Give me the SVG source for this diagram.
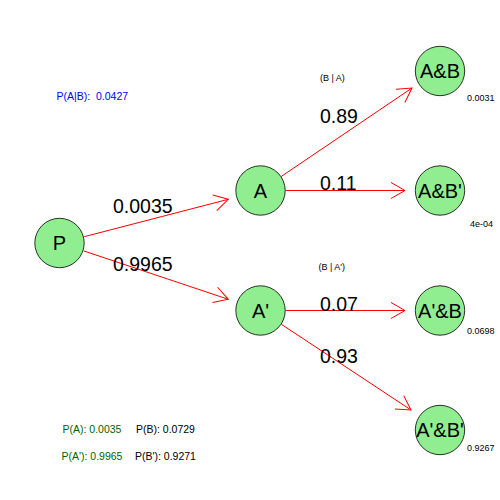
<svg xmlns="http://www.w3.org/2000/svg" width="500" height="500" viewBox="0 0 500 500">
  <defs>
    <marker id="head" markerUnits="userSpaceOnUse" markerWidth="32" markerHeight="32" viewBox="-16 -16 32 32" refX="0" refY="0" orient="auto" overflow="visible">
      <path d="M-14,-8 L0,0 L-14,8" fill="none" stroke="#FF0000" stroke-width="1"/>
    </marker>
    <style>
      text { white-space: pre; }
      .node circle { fill: #90EE90; stroke: #000000; stroke-width: 0.8; }
      .node text { font-family: "Liberation Sans", Arial, sans-serif; font-size: 20px; text-anchor: middle; fill: #000000; }
      .edge { stroke: #FF0000; stroke-width: 1; fill: none; marker-end: url(#head); }
      .big { font-family: "Liberation Sans", Arial, sans-serif; font-size: 19.5px; fill: #000000; }
      .small { font-family: "Liberation Sans", Arial, sans-serif; font-size: 9px; fill: #000000; }
      .info { font-family: "Liberation Sans", Arial, sans-serif; font-size: 10.5px; }
    </style>
  </defs>
  <rect width="500" height="500" fill="#FFFFFF"/>

  <!-- branches -->
  <g id="connectors">
    <line class="edge" x1="84.2" y1="236.7" x2="228.3" y2="199.3"/>
    <line class="edge" x1="83.7" y1="250.9" x2="228.3" y2="299.3"/>
    <line class="edge" x1="281.2" y1="176.5" x2="412" y2="88"/>
    <line class="edge" x1="285.5" y1="190.5" x2="405" y2="190.5"/>
    <line class="edge" x1="285.5" y1="310.5" x2="405" y2="310.5"/>
    <line class="edge" x1="281.4" y1="324.3" x2="411" y2="410"/>
  </g>

  <!-- branch probabilities -->
  <g id="edge-labels">
    <text class="big" x="113" y="213">0.0035</text>
    <text class="big" x="113" y="271">0.9965</text>
    <text class="big" x="320" y="123">0.89</text>
    <text class="big" x="320" y="190">0.11</text>
    <text class="big" x="320" y="311">0.07</text>
    <text class="big" x="320" y="363">0.93</text>
    <text class="small" x="320" y="81" xml:space="preserve">(B | A)</text>
    <text class="small" x="318.5" y="270" xml:space="preserve">(B | A')</text>
  </g>

  <!-- tree nodes -->
  <g id="node-P" class="node">
    <circle cx="59.5" cy="243" r="24.7"/>
    <text x="59.5" y="250">P</text>
  </g>
  <g id="node-A" class="node">
    <circle cx="260.5" cy="190.5" r="24.7"/>
    <text x="260.5" y="197.5">A</text>
  </g>
  <g id="node-A-not" class="node">
    <circle cx="260.5" cy="310.5" r="24.7"/>
    <text x="260.5" y="317.5">A'</text>
  </g>
  <g id="node-AB" class="node">
    <circle cx="440" cy="71" r="24.7"/>
    <text x="440" y="78">A&amp;B</text>
  </g>
  <g id="node-AB-not" class="node">
    <circle cx="440" cy="190.5" r="24.7"/>
    <text x="440" y="197.5">A&amp;B'</text>
  </g>
  <g id="node-A-not-B" class="node">
    <circle cx="440" cy="310.5" r="24.7"/>
    <text x="440" y="317.5">A'&amp;B</text>
  </g>
  <g id="node-A-not-B-not" class="node">
    <circle cx="440" cy="430" r="24.7"/>
    <text x="440" y="437">A'&amp;B'</text>
  </g>

  <!-- joint probabilities -->
  <g id="joint-labels">
    <text class="small" x="467" y="101">0.0031</text>
    <text class="small" x="470" y="227">4e-04</text>
    <text class="small" x="467" y="334">0.0698</text>
    <text class="small" x="467" y="451">0.9267</text>
  </g>

  <!-- summary -->
  <g id="summary">
    <text class="info" x="56.5" y="100" fill="#0000FF" xml:space="preserve">P(A|B):  0.0427</text>
    <text class="info" x="62.5" y="433" fill="#006400">P(A): 0.0035</text>
    <text class="info" x="136" y="433" fill="#000000">P(B): 0.0729</text>
    <text class="info" x="61.5" y="460" fill="#006400">P(A'): 0.9965</text>
    <text class="info" x="135" y="460" fill="#000000">P(B'): 0.9271</text>
  </g>
</svg>
